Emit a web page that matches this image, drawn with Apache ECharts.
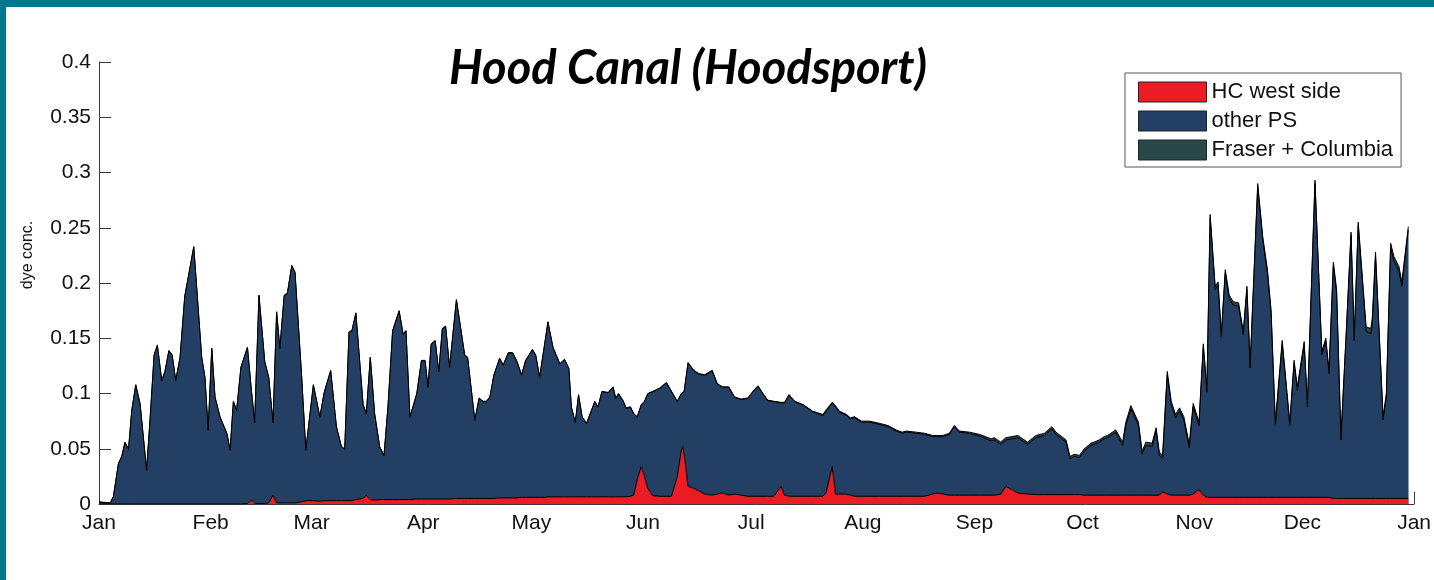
<!DOCTYPE html>
<html>
<head>
<meta charset="utf-8">
<title>Hood Canal (Hoodsport)</title>
<script src="https://cdn.jsdelivr.net/npm/echarts@6/dist/echarts.min.js"></script>
<style>
  html, body { margin: 0; padding: 0; background: #fff; }
  #wrap { position: relative; width: 1434px; height: 580px; overflow: hidden; background: #fff; }
  #chart { position: absolute; left: 0; top: 0; width: 1434px; height: 580px; }
  .frame-top { position: absolute; left: 0; top: 0; width: 1434px; height: 7px; background: #00778f; }
  .frame-left { position: absolute; left: 0; top: 0; width: 6px; height: 580px; background: #00778f; }
</style>
</head>
<body>
<div id="wrap">
  <div id="chart"></div>
  <div class="frame-top"></div>
  <div class="frame-left"></div>
</div>
<script>
// Day of year (0 = 1 Jan) for every sample
const days = [
  0, 3.1, 4.0, 5.4, 6.3, 7.2, 8.2, 9.1, 10.2, 11.4,
  13.2, 14.1, 15.3, 16.2, 17.4, 18.3, 19.4, 20.3, 21.3, 22.5,
  23.8, 26.3, 28.5, 29.4, 30.3, 31.3, 32.2, 33.6, 35.5, 36.4,
  37.3, 38.2, 39.4, 41.2, 42.3, 43.2, 44.4, 46.0, 47.1, 48.3,
  49.3, 50.2, 51.4, 52.3, 53.5, 54.4, 56.2, 57.4, 59.5, 61.3,
  62.5, 64.3, 65.9, 67.3, 68.2, 69.4, 70.2, 71.3, 73.3, 74.2,
  75.3, 76.5, 77.9, 79.1, 80.2, 81.5, 83.3, 84.4, 85.2, 86.3,
  88.2, 89.5, 90.5, 91.3, 92.2, 93.3, 94.3, 95.3, 96.2, 97.3,
  99.2, 101.5, 102.3, 104.3, 105.5, 106.6, 107.5, 108.5, 109.6, 111.2,
  112.2, 113.6, 114.8, 115.9, 117.3, 118.4, 120.3, 121.2, 122.3, 123.7,
  124.6, 126.0, 127.9, 129.2, 130.4, 131.1, 132.2, 133.1, 134.1, 135.3,
  136.7, 137.6, 138.5, 139.6, 141.3, 142.7, 143.4, 144.2, 145.4, 146.3,
  147.5, 148.4, 149.4, 150.5, 151.4, 152.3, 153.7, 155.6, 157.5, 158.9,
  160.5, 161.6, 162.0, 162.4, 163.5, 165.1, 166.5, 168.1, 170.2, 171.6,
  173.1, 174.8, 176.4, 178.2, 180.1, 181.5, 182.9, 184.3, 185.6, 187.3,
  189.3, 190.3, 191.5, 193.1, 195.4, 198.1, 200.9, 201.8, 203.5, 204.4,
  205.5, 207.5, 208.5, 209.7, 211.6, 213.9, 216.6, 219.0, 221.3, 222.9,
  224.1, 226.8, 229.1, 231.4, 232.7, 234.2, 236.0, 237.4, 238.8, 241.6,
  244.4, 247.6, 248.5, 250.3, 251.7, 255.0, 257.7, 260.1, 262.4, 264.5,
  265.6, 268.4, 269.5, 270.7, 272.1, 273.5, 275.3, 276.2, 277.6, 279.0,
  279.9, 282.2, 284.1, 285.0, 286.4, 288.5, 289.5, 290.6, 292.3, 293.4,
  294.3, 295.2, 296.5, 297.6, 298.8, 299.9, 301.1, 302.6, 303.7, 305.3,
  306.5, 307.5, 308.4, 309.8, 310.6, 311.5, 312.6, 313.7, 314.8, 316.3,
  317.6, 318.6, 319.5, 321.6, 323.0, 324.3, 325.3, 326.5, 328.4, 330.5,
  331.7, 332.6, 334.5, 335.4, 337.5, 339.4, 340.5, 341.4, 342.6, 343.5,
  344.7, 346.1, 347.5, 348.4, 349.5, 351.7, 353.0, 353.4, 354.3, 356.4,
  357.3, 358.5, 359.4, 360.8, 361.6, 363.4
];

// HC west side dye concentration
const hcWest = [
  0, 0, 0, 0, 0, 0, 0, 0, 0, 0,
  0, 0, 0, 0, 0, 0, 0, 0, 0, 0,
  0, 0, 0, 0, 0, 0, 0, 0, 0, 0,
  0, 0, 0, 0.0005, 0.0035, 0.0005, 0.0005, 0.0005, 0.001, 0.008,
  0.001, 0.001, 0.001, 0.001, 0.001, 0.001, 0.002, 0.003, 0.003, 0.0025,
  0.003, 0.003, 0.003, 0.003, 0.003, 0.003, 0.003, 0.004, 0.005, 0.008,
  0.004, 0.0035, 0.004, 0.004, 0.004, 0.004, 0.004, 0.004, 0.004, 0.004,
  0.0045, 0.0045, 0.0045, 0.0045, 0.0045, 0.0045, 0.0045, 0.0045, 0.0045, 0.0045,
  0.005, 0.005, 0.005, 0.005, 0.005, 0.005, 0.005, 0.005, 0.005, 0.0055,
  0.0055, 0.0055, 0.0055, 0.0055, 0.006, 0.006, 0.006, 0.006, 0.006, 0.006,
  0.0065, 0.0065, 0.0065, 0.0065, 0.0065, 0.0065, 0.0065, 0.0065, 0.0065, 0.0065,
  0.0065, 0.0065, 0.0065, 0.0065, 0.0065, 0.0065, 0.0065, 0.0065, 0.0065, 0.0065,
  0.007, 0.008, 0.022, 0.034, 0.025, 0.014, 0.0075, 0.007, 0.007, 0.007,
  0.025, 0.048, 0.052, 0.045, 0.016, 0.014, 0.012, 0.009, 0.008, 0.009,
  0.010, 0.008, 0.009, 0.008, 0.007, 0.007, 0.007, 0.007, 0.007, 0.007,
  0.016, 0.008, 0.007, 0.007, 0.007, 0.007, 0.007, 0.010, 0.034, 0.009,
  0.009, 0.009, 0.008, 0.007, 0.007, 0.007, 0.007, 0.007, 0.007, 0.007,
  0.007, 0.007, 0.007, 0.009, 0.010, 0.009, 0.008, 0.008, 0.008, 0.008,
  0.008, 0.008, 0.008, 0.009, 0.016, 0.010, 0.009, 0.0085, 0.0085, 0.0085,
  0.0085, 0.0085, 0.0085, 0.0085, 0.0085, 0.008, 0.008, 0.008, 0.008, 0.008,
  0.008, 0.008, 0.008, 0.008, 0.008, 0.008, 0.008, 0.008, 0.008, 0.008,
  0.008, 0.011, 0.009, 0.008, 0.008, 0.008, 0.008, 0.008, 0.009, 0.013,
  0.008, 0.006, 0.006, 0.006, 0.006, 0.006, 0.006, 0.006, 0.006, 0.006,
  0.006, 0.006, 0.006, 0.006, 0.006, 0.006, 0.006, 0.006, 0.006, 0.006,
  0.006, 0.006, 0.006, 0.006, 0.006, 0.006, 0.006, 0.006, 0.005, 0.005,
  0.005, 0.005, 0.005, 0.005, 0.005, 0.005, 0.005, 0.005, 0.005, 0.005,
  0.005, 0.005, 0.005, 0.005, 0.005, 0.005
];

// other Puget Sound sources
const otherPS = [
  0.0015, 0.0005, 0.0065, 0.0365, 0.0425, 0.0555, 0.0495, 0.0845, 0.1075, 0.0905,
  0.0305, 0.0725, 0.1345, 0.1435, 0.1115, 0.1195, 0.1385, 0.1345, 0.1115, 0.1325,
  0.1875, 0.2325, 0.1325, 0.1145, 0.0665, 0.1405, 0.0965, 0.0785, 0.0635, 0.0485,
  0.0925, 0.0845, 0.1235, 0.141, 0.099, 0.073, 0.188, 0.128, 0.1135, 0.0655,
  0.1725, 0.1395, 0.1875, 0.1895, 0.2145, 0.2085, 0.1155, 0.0455, 0.1045, 0.076,
  0.0975, 0.1175, 0.0665, 0.0485, 0.0465, 0.1525, 0.1535, 0.1685, 0.0845, 0.0735,
  0.1285, 0.078, 0.0475, 0.0395, 0.0835, 0.1525, 0.1705, 0.1495, 0.1525, 0.0745,
  0.095, 0.125, 0.125, 0.101, 0.140, 0.143, 0.115, 0.154, 0.156, 0.119,
  0.1795, 0.1295, 0.1275, 0.0705, 0.0905, 0.0875, 0.0875, 0.0915, 0.1115, 0.126,
  0.120, 0.131, 0.131, 0.124, 0.1105, 0.1235, 0.1335, 0.1285, 0.1085, 0.1385,
  0.158, 0.135, 0.120, 0.124, 0.116, 0.081, 0.067, 0.092, 0.072, 0.066,
  0.078, 0.086, 0.081, 0.095, 0.094, 0.099, 0.089, 0.093, 0.087, 0.080,
  0.0805, 0.0735, 0.0565, 0.0555, 0.0675, 0.0855, 0.094, 0.0975, 0.1025, 0.0945,
  0.0675, 0.0515, 0.0485, 0.0565, 0.1115, 0.1065, 0.1055, 0.1075, 0.1125, 0.0995,
  0.0955, 0.0975, 0.0875, 0.0865, 0.0885, 0.0945, 0.0995, 0.0925, 0.0865, 0.0855,
  0.0755, 0.0835, 0.0915, 0.0855, 0.0825, 0.0765, 0.073, 0.074, 0.057, 0.079,
  0.074, 0.071, 0.069, 0.071, 0.067, 0.067, 0.065, 0.063, 0.059, 0.057,
  0.058, 0.057, 0.056, 0.052, 0.051, 0.052, 0.055, 0.062, 0.057, 0.056,
  0.0535, 0.049, 0.050, 0.045, 0.042, 0.050, 0.045, 0.0515, 0.0535, 0.0595,
  0.0545, 0.0475, 0.0325, 0.0345, 0.0335, 0.040, 0.045, 0.046, 0.048, 0.051,
  0.052, 0.057, 0.045, 0.063, 0.078, 0.063, 0.037, 0.045, 0.044, 0.058,
  0.036, 0.030, 0.108, 0.082, 0.070, 0.076, 0.068, 0.043, 0.079, 0.058,
  0.134, 0.095, 0.253, 0.188, 0.192, 0.145, 0.203, 0.180, 0.174, 0.173,
  0.147, 0.188, 0.117, 0.281, 0.233, 0.203, 0.167, 0.065, 0.139, 0.065,
  0.121, 0.097, 0.138, 0.082, 0.284, 0.129, 0.141, 0.112, 0.211, 0.186,
  0.053, 0.143, 0.238, 0.143, 0.247, 0.151, 0.149, 0.158, 0.219, 0.071,
  0.092, 0.227, 0.215, 0.206, 0.192, 0.243
];

// Fraser + Columbia river inflow
const fraserColumbia = [
  0.0005, 0.0005, 0.0005, 0.0005, 0.0005, 0.0005, 0.0005, 0.0005, 0.0005, 0.0005,
  0.0005, 0.0005, 0.0005, 0.0005, 0.0005, 0.0005, 0.0005, 0.0005, 0.0005, 0.0005,
  0.0005, 0.0005, 0.0005, 0.0005, 0.0005, 0.0005, 0.0005, 0.0005, 0.0005, 0.0005,
  0.0005, 0.0005, 0.0005, 0.0005, 0.0005, 0.0005, 0.0005, 0.0005, 0.0005, 0.0005,
  0.0005, 0.0005, 0.0005, 0.0005, 0.0005, 0.0005, 0.0005, 0.0005, 0.0005, 0.0005,
  0.0005, 0.0005, 0.0005, 0.0005, 0.0005, 0.0005, 0.0005, 0.0005, 0.0005, 0.0005,
  0.0005, 0.0005, 0.0005, 0.0005, 0.0005, 0.0005, 0.0005, 0.0005, 0.0005, 0.0005,
  0.0005, 0.0005, 0.0005, 0.0005, 0.0005, 0.0005, 0.0005, 0.0005, 0.0005, 0.0005,
  0.0005, 0.0005, 0.0005, 0.0005, 0.0005, 0.0005, 0.0005, 0.0005, 0.0005, 0.0005,
  0.0005, 0.0005, 0.0005, 0.0005, 0.0005, 0.0005, 0.0005, 0.0005, 0.0005, 0.0005,
  0.0005, 0.0005, 0.0005, 0.0005, 0.0005, 0.0005, 0.0005, 0.0005, 0.0005, 0.0005,
  0.0005, 0.0005, 0.0005, 0.0005, 0.0005, 0.0005, 0.0005, 0.0005, 0.0005, 0.0005,
  0.0005, 0.0005, 0.0005, 0.0005, 0.0005, 0.0005, 0.0005, 0.0005, 0.0005, 0.0005,
  0.0005, 0.0005, 0.0005, 0.0005, 0.0005, 0.0005, 0.0005, 0.0005, 0.0005, 0.0005,
  0.0005, 0.0005, 0.0005, 0.0005, 0.0005, 0.0005, 0.0005, 0.0005, 0.0005, 0.0005,
  0.0005, 0.0005, 0.0005, 0.0005, 0.0005, 0.0005, 0.001, 0.001, 0.001, 0.001,
  0.001, 0.001, 0.001, 0.001, 0.001, 0.001, 0.001, 0.001, 0.001, 0.001,
  0.001, 0.001, 0.001, 0.001, 0.001, 0.001, 0.001, 0.001, 0.001, 0.001,
  0.0015, 0.002, 0.002, 0.002, 0.002, 0.002, 0.002, 0.002, 0.002, 0.002,
  0.002, 0.002, 0.002, 0.002, 0.002, 0.002, 0.002, 0.002, 0.002, 0.002,
  0.002, 0.002, 0.003, 0.003, 0.003, 0.003, 0.003, 0.003, 0.003, 0.003,
  0.003, 0.003, 0.003, 0.003, 0.003, 0.003, 0.003, 0.003, 0.003, 0.003,
  0.003, 0.003, 0.003, 0.003, 0.003, 0.003, 0.003, 0.003, 0.003, 0.003,
  0.003, 0.003, 0.003, 0.003, 0.003, 0.003, 0.003, 0.003, 0.003, 0.003,
  0.003, 0.003, 0.003, 0.003, 0.003, 0.003, 0.003, 0.003, 0.003, 0.003,
  0.003, 0.003, 0.003, 0.003, 0.003, 0.004, 0.005, 0.005, 0.004, 0.003,
  0.003, 0.004, 0.004, 0.004, 0.004, 0.003
];

// Month boundaries on the day-of-year axis
const monthStarts = [0, 31, 59, 90, 120, 151, 181, 212, 243, 273, 304, 334, 365];
const monthLabels = ['Jan', 'Feb', 'Mar', 'Apr', 'May', 'Jun', 'Jul', 'Aug', 'Sep', 'Oct', 'Nov', 'Dec', 'Jan'];

// Layers listed bottom to top
const seriesNames = ['HC west side', 'other PS', 'Fraser + Columbia'];
const seriesColors = ['#ed1c24', '#233f63', '#27494a'];
const seriesValues = [hcWest, otherPS, fraserColumbia];

// Running sums give the upper edge of each stacked layer; every band is
// filled down to zero and the bands are painted top layer first, so each
// lower band covers the part of the one above that sits under it.
const layerTops = [];
seriesValues.forEach((vals, k) => {
  layerTops.push(vals.map((v, i) => (k ? layerTops[k - 1][i] : 0) + v));
});

function monthLabel(v) {
  const i = monthStarts.indexOf(Math.round(v));
  return i >= 0 ? monthLabels[i] : '';
}

const chart = echarts.init(document.getElementById('chart'), null, { renderer: 'canvas' });

const axisColor = '#3a3a3a';
const labelFont = { fontFamily: 'Liberation Sans, Arial, sans-serif', fontSize: 21, color: '#111' };

const option = {
  animation: false,
  backgroundColor: '#fff',
  title: {
    text: 'Hood Canal (Hoodsport)',
    left: 449,
    top: 45,
    padding: 0,
    textStyle: {
      fontFamily: 'Lato, sans-serif',
      fontStyle: 'italic',
      fontWeight: 'bold',
      fontSize: 47,
      color: '#000'
    }
  },
  legend: {
    orient: 'vertical',
    left: 1125,
    top: 73,
    padding: [8, 8, 6, 13],
    itemWidth: 68,
    itemHeight: 20,
    itemGap: 7,
    icon: 'rect',
    borderColor: '#555',
    borderWidth: 1,
    backgroundColor: '#fff',
    selectedMode: false,
    itemStyle: { borderColor: '#222', borderWidth: 1 },
    textStyle: Object.assign({}, labelFont, { fontSize: 22, lineHeight: 21 }),
    data: seriesNames
  },
  grid: { left: 99, right: 19, top: 62, bottom: 76 },
  xAxis: {
    type: 'value',
    min: 0,
    max: 365,
    axisLine: { show: true, lineStyle: { color: axisColor, width: 1 } },
    axisTick: { show: true, inside: true, length: 12, customValues: monthStarts, lineStyle: { color: axisColor } },
    axisLabel: Object.assign({ customValues: monthStarts, formatter: monthLabel, margin: 9 }, labelFont),
    splitLine: { show: false }
  },
  yAxis: {
    type: 'value',
    min: 0,
    max: 0.4,
    interval: 0.05,
    axisLine: { show: true, lineStyle: { color: axisColor, width: 1 } },
    axisTick: { show: true, inside: true, length: 12, lineStyle: { color: axisColor } },
    axisLabel: Object.assign({ margin: 8, formatter: v => String(+v.toFixed(2)) }, labelFont),
    splitLine: { show: false }
  },
  graphic: [{
    type: 'text',
    x: 28,
    y: 255,
    rotation: Math.PI / 2,
    style: {
      text: 'dye conc.',
      fontFamily: 'Liberation Sans, Arial, sans-serif',
      fontSize: 16,
      fill: '#111',
      align: 'center',
      verticalAlign: 'middle'
    }
  }],
  series: seriesNames.map((name, k) => ({
    name: name,
    type: 'line',
    showSymbol: false,
    symbol: 'none',
    data: days.map((d, i) => [d, layerTops[k][i]]),
    itemStyle: { color: seriesColors[k] },
    lineStyle: { color: '#000', width: 1 },
    areaStyle: { color: seriesColors[k], opacity: 1, origin: 'start' },
    z: 10 - k
  }))
};

chart.setOption(option);
</script>
</body>
</html>
